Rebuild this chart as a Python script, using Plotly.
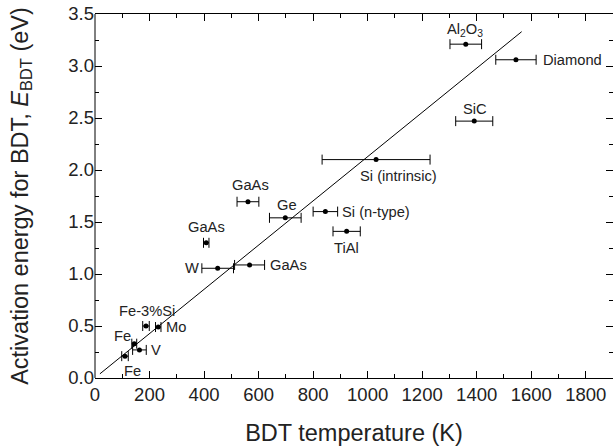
import plotly.graph_objects as go

# ---- data ----
materials = ["Fe", "Fe", "V", "Fe-3%Si", "Mo", "W", "GaAs", "GaAs", "GaAs", "Ge",
             "Si (n-type)", "TiAl", "Si (intrinsic)", "SiC", "Al<sub>2</sub>O<sub>3</sub>", "Diamond"]
bdt_temp = [110, 144, 163, 187, 232, 450, 567, 408, 561, 698, 845, 923, 1031, 1391, 1360, 1544]
temp_err = [12, 9, 25, 12, 10, 58, 55, 10, 40, 58, 45, 50, 198, 68, 58, 74]
e_bdt = [0.21, 0.33, 0.27, 0.50, 0.49, 1.055, 1.087, 1.30, 1.695, 1.54, 1.60, 1.41, 2.10, 2.47, 3.21, 3.06]

fit_temp = [18, 1565]
fit_energy = [0.04, 3.33]

x_ticks = [0, 200, 400, 600, 800, 1000, 1200, 1400, 1600, 1800]
y_ticks = [0.0, 0.5, 1.0, 1.5, 2.0, 2.5, 3.0, 3.5]

# label placement (pixel offsets from the point, anchor)
label_pos = [
    (8, -15, "center"), (-12, 8, "center"), (10, 0, "left"), (1, 15, "center"),
    (6, 0, "left"), (-26, 0, "center"), (18, 0, "left"), (0, 16, "center"),
    (3, 17, "center"), (2, 13, "center"), (15, 0, "left"), (0, -17, "center"),
    (22, -16, "center"), (1, 12, "center"), (-1, 14, "center"), (25, 0, "left"),
]

FONT = "Liberation Sans, Arial, Helvetica, sans-serif"
TXT = "#222222"

fig = go.Figure()
fig.add_trace(go.Scatter(
    x=fit_temp, y=fit_energy, mode="lines",
    line=dict(color="black", width=1), showlegend=False, hoverinfo="skip"))
fig.add_trace(go.Scatter(
    x=bdt_temp, y=e_bdt, mode="markers",
    marker=dict(color="black", size=5),
    error_x=dict(type="data", array=temp_err, color="black", thickness=1, width=5),
    showlegend=False))

for name, x, y, (dx, dy, anc) in zip(materials, bdt_temp, e_bdt, label_pos):
    fig.add_annotation(x=x, y=y, text=name, showarrow=False,
                       xshift=dx, yshift=dy, xanchor=anc, yanchor="middle",
                       font=dict(family=FONT, size=14.7, color=TXT))

tick_common = dict(
    ticks="inside", ticklen=7, tickwidth=1, tickcolor="black",
    showgrid=False, zeroline=False, mirror="ticks",
    tickfont=dict(family=FONT, size=18.5, color=TXT),
)

fig.update_xaxes(
    range=[0, 1900], tickvals=x_ticks, ticktext=[str(v) for v in x_ticks],
    showline=True, linecolor="black", linewidth=1,
    minor=dict(dtick=100, ticks="inside", ticklen=4, tickcolor="black", showgrid=False),
    title=dict(text="BDT temperature (K)", font=dict(family=FONT, size=23.5, color=TXT), standoff=23),
    **tick_common)
fig.update_yaxes(
    range=[0, 3.5], tickvals=y_ticks, ticktext=[f"{v:.1f}" for v in y_ticks],
    showline=False,
    minor=dict(dtick=0.25, ticks="inside", ticklen=4, tickcolor="black", showgrid=False),
    title=dict(text="Activation energy for BDT, <i>E</i><sub>BDT</sub> (eV)",
               font=dict(family=FONT, size=23.5, color=TXT), standoff=33),
    **tick_common)

# left frame line (right side of the frame lies just outside the picture)
fig.add_shape(type="line", xref="paper", yref="paper", x0=0, x1=0, y0=0, y1=1,
              line=dict(color="black", width=1))

fig.update_layout(
    width=613, height=446,
    margin=dict(l=95, r=0, t=14, b=68, autoexpand=False),
    plot_bgcolor="white", paper_bgcolor="white",
    font=dict(family=FONT, color=TXT),
)

fig.write_html("out.html", config={"displayModeBar": False},
               post_script="document.body.style.margin='0';document.body.style.overflow='hidden';")
